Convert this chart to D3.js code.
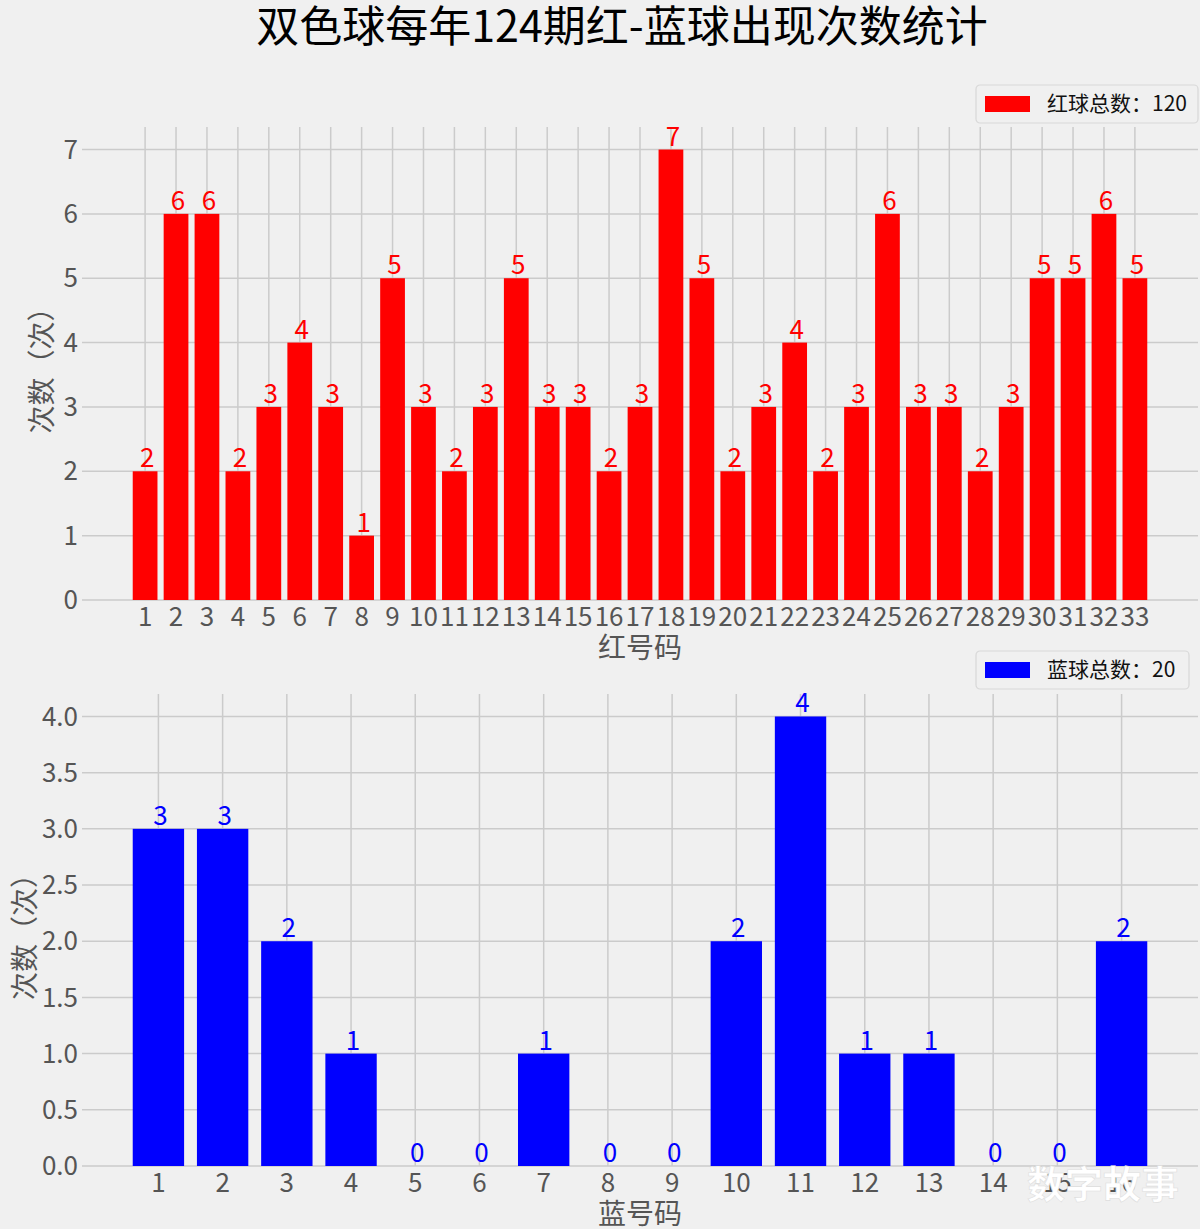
<!DOCTYPE html>
<meta charset="utf-8">
<script src="https://d3js.org/d3.v7.min.js"></script>
<style>
  body { margin: 0; background: #f0f0f0; }
  text { font-family: "Noto Sans CJK SC", "Noto Sans", sans-serif; }
</style>
<div id="chart"></div>
<script>

// data
const title = "双色球每年124期红-蓝球出现次数统计";
const redNumbers = d3.range(1, 34);
const redCounts = [2,6,6,2,3,4,3,1,5,3,2,3,5,3,3,2,3,7,5,2,3,4,2,3,6,3,3,2,3,5,5,6,5];
const blueNumbers = d3.range(1, 17);
const blueCounts = [3,3,2,1,0,0,1,0,0,2,4,1,1,0,0,2];
const redTicksY = [0,1,2,3,4,5,6,7];
const blueTicksY = [0,0.5,1,1.5,2,2.5,3,3.5,4];

const W = 1200, H = 1229;
const svg = d3.select("#chart").append("svg")
  .attr("width", W).attr("height", H);

svg.append("rect").attr("width", W).attr("height", H).attr("fill", "#f0f0f0");

svg.append("text")
  .attr("x", 622).attr("y", 42)
  .attr("text-anchor", "middle")
  .attr("font-size", 43)
  .attr("fill", "#000")
  .text(title);

// draw one bar panel
function panel(opts) {
  const { nums, counts, color, top, bottom, yTicks, yFmt, xLabel, yLabelX, legend } = opts;
  const left = 82, right = 1198;

  // matplotlib-like limits: bars +-0.4, 5% margins
  const lo = nums[0] - 0.4, hi = nums[nums.length - 1] + 0.4;
  const pad = (hi - lo) * 0.05;
  const x = d3.scaleLinear().domain([lo - pad, hi + pad]).range([left, right]);
  const y = d3.scaleLinear().domain([0, d3.max(counts) * 1.05]).range([bottom, top]);
  const bw = x(0.8) - x(0);

  const g = svg.append("g");

  // grid
  g.selectAll(".vgrid").data(nums).join("line")
    .attr("x1", d => x(d)).attr("x2", d => x(d))
    .attr("y1", top).attr("y2", bottom)
    .attr("stroke", "#cbcbcb").attr("stroke-width", 1.5);
  g.selectAll(".hgrid").data(yTicks).join("line")
    .attr("x1", left).attr("x2", right)
    .attr("y1", d => y(d)).attr("y2", d => y(d))
    .attr("stroke", "#cbcbcb").attr("stroke-width", 1.5);

  // bars
  g.selectAll(".bar").data(nums).join("rect")
    .attr("x", (d) => x(d) - bw / 2)
    .attr("y", (d, i) => y(counts[i]))
    .attr("width", bw)
    .attr("height", (d, i) => y(0) - y(counts[i]))
    .attr("fill", color);

  // value labels
  g.selectAll(".val").data(nums).join("text")
    .attr("x", d => x(d) + 2)
    .attr("y", (d, i) => y(counts[i]) - 4)
    .attr("text-anchor", "middle")
    .attr("font-size", 26)
    .attr("fill", color)
    .text((d, i) => counts[i]);

  // y tick labels
  g.selectAll(".yt").data(yTicks).join("text")
    .attr("x", left - 4)
    .attr("y", d => y(d))
    .attr("dy", "0.35em")
    .attr("text-anchor", "end")
    .attr("font-size", 26)
    .attr("fill", "#555")
    .text(yFmt);

  // x tick labels
  g.selectAll(".xt").data(nums).join("text")
    .attr("x", d => x(d))
    .attr("y", bottom + 26)
    .attr("text-anchor", "middle")
    .attr("font-size", 26)
    .attr("fill", "#555")
    .text(d => d);

  // axis labels
  g.append("text")
    .attr("x", (left + right) / 2).attr("y", bottom + 58)
    .attr("text-anchor", "middle")
    .attr("font-size", 28).attr("fill", "#555")
    .text(xLabel);
  g.append("text")
    .attr("transform", `translate(${yLabelX}, ${(top + bottom) / 2}) rotate(-90)`)
    .attr("text-anchor", "middle")
    .attr("font-size", 28).attr("fill", "#555")
    .text("次数（次）");

  // legend
  const lg = g.append("g").attr("transform", `translate(${legend.x}, ${legend.y})`);
  lg.append("rect")
    .attr("width", legend.w).attr("height", 38)
    .attr("rx", 4)
    .attr("fill", "#f0f0f0")
    .attr("stroke", "#d8d8d8").attr("stroke-width", 1.2);
  lg.append("rect")
    .attr("x", 9).attr("y", 11).attr("width", 45).attr("height", 16)
    .attr("fill", color);
  lg.append("text")
    .attr("x", 71).attr("y", 19).attr("dy", "0.35em")
    .attr("font-size", 21).attr("fill", "#111")
    .text(legend.text);
}

panel({
  nums: redNumbers, counts: redCounts, color: "#ff0000",
  top: 127, bottom: 600, yTicks: redTicksY, yFmt: d3.format("d"),
  xLabel: "红号码", yLabelX: 52,
  legend: { x: 976, y: 85, w: 222, text: "红球总数：" + d3.sum(redCounts) }
});

panel({
  nums: blueNumbers, counts: blueCounts, color: "#0000ff",
  top: 694, bottom: 1166, yTicks: blueTicksY, yFmt: d3.format(".1f"),
  xLabel: "蓝号码", yLabelX: 35,
  legend: { x: 976, y: 651, w: 213, text: "蓝球总数：" + d3.sum(blueCounts) }
});

// watermark
svg.append("text")
  .attr("x", 1103).attr("y", 1198)
  .attr("text-anchor", "middle")
  .attr("font-size", 38).attr("font-weight", "bold")
  .attr("fill", "#fff")
  .attr("stroke", "#ddd").attr("stroke-width", 0.6)
  .text("数字故事");
</script>
